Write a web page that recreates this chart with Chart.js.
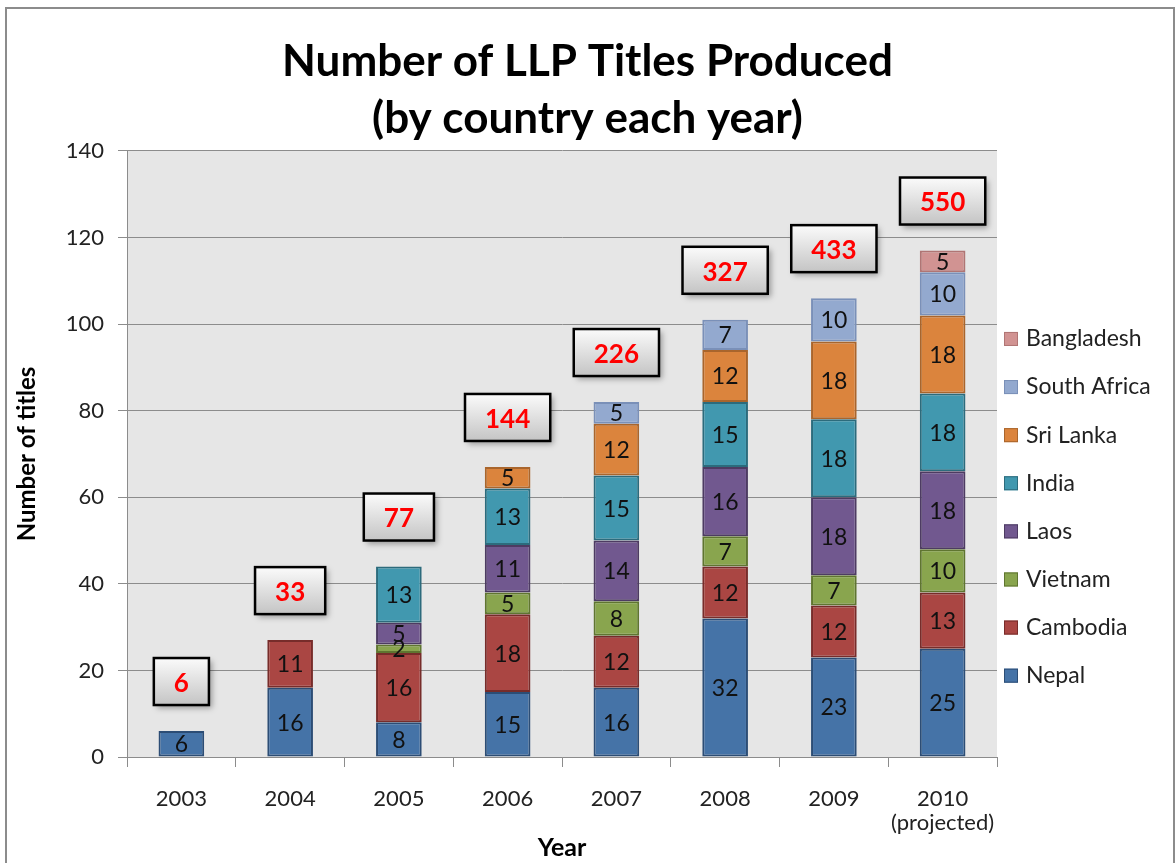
<!DOCTYPE html>
<html lang="en">
<head>
<meta charset="UTF-8">
<title>Number of LLP Titles Produced</title>
<style>
  body { margin: 0; background: #fff; overflow: hidden; }
  #frame { position: absolute; left: 5px; top: 7px; width: 1166px; height: 900px; border: 2px solid #8c8c8c; }
  #chart { position: absolute; left: 0; top: 0; }
</style>
</head>
<body>
<div id="frame"></div>
<canvas id="chart" width="1175" height="863"></canvas>

<script src="https://cdn.jsdelivr.net/npm/chart.js"></script>
<script>
    // values
    const years = ['2003', '2004', '2005', '2006', '2007', '2008', '2009', ['2010', '(projected)']];
    const nepal       = [6, 16, 8, 15, 16, 32, 23, 25];
    const cambodia    = [0, 11, 16, 18, 12, 12, 12, 13];
    const vietnam     = [0, 0, 2, 5, 8, 7, 7, 10];
    const laos        = [0, 0, 5, 11, 14, 16, 18, 18];
    const india       = [0, 0, 13, 13, 15, 15, 18, 18];
    const sriLanka    = [0, 0, 0, 5, 12, 12, 18, 18];
    const southAfrica = [0, 0, 0, 0, 5, 7, 10, 10];
    const bangladesh  = [0, 0, 0, 0, 0, 0, 0, 5];
    // cumulative totals shown in the boxes
    const cumulative  = [6, 33, 77, 144, 226, 327, 433, 550];

    const FONT = 'Lato, "Open Sans", sans-serif';

    function series(label, data, fill, border) {
        return {
            label: label,
            data: data,
            backgroundColor: fill,
            borderColor: border,
            borderWidth: 2,
            borderSkipped: false,
            barPercentage: 0.42,
            categoryPercentage: 1
        }
    }

    // gray plot background
    const plotBg = {
        id: 'plotBg',
        beforeDraw(chart) {
            const {ctx, chartArea: a} = chart;
            ctx.save();
            ctx.fillStyle = '#e6e6e6';
            ctx.fillRect(a.left, a.top, a.right - a.left, a.bottom - a.top);
            ctx.restore();
        }
    }

    // value inside every segment
    const segLabels = {
        id: 'segLabels',
        afterDatasetsDraw(chart) {
            const ctx = chart.ctx;
            ctx.save();
            ctx.font = '23px ' + FONT;
            ctx.fillStyle = '#111';
            ctx.textAlign = 'center';
            ctx.textBaseline = 'middle';
            chart.data.datasets.forEach((ds, di) => {
                chart.getDatasetMeta(di).data.forEach((bar, i) => {
                    const v = ds.data[i];
                    if (!v) return;
                    const p = bar.getProps(['x', 'y', 'base'], true);
                    ctx.fillText(v, p.x, (p.y + p.base) / 2 + 1);
                });
            });
            ctx.restore();
        }
    }

    // boxes with running totals above each stack
    const totalBoxes = {
        id: 'totalBoxes',
        afterDatasetsDraw(chart) {
            const ctx = chart.ctx;
            const yScale = chart.scales.y;
            const meta = chart.getDatasetMeta(0);
            ctx.save();
            ctx.font = 'bold 26px ' + FONT;
            cumulative.forEach((c, i) => {
                let top = 0;
                chart.data.datasets.forEach(ds => top += ds.data[i]);
                const x = meta.data[i].x;
                const txt = String(c);
                const w = Math.max(52, ctx.measureText(txt).width + 40);
                const h = 47;
                const bottom = yScale.getPixelForValue(top) - 26;
                const left = x - w / 2, y0 = bottom - h;

                ctx.save();
                ctx.shadowColor = 'rgba(0,0,0,0.35)';
                ctx.shadowBlur = 6;
                ctx.shadowOffsetX = 3;
                ctx.shadowOffsetY = 3;
                const g = ctx.createLinearGradient(0, y0, 0, bottom);
                g.addColorStop(0, '#fbfbfb');
                g.addColorStop(1, '#c4c4c4');
                ctx.fillStyle = g;
                ctx.fillRect(left, y0, w, h);
                ctx.restore();

                ctx.lineWidth = 2.5;
                ctx.strokeStyle = '#000';
                ctx.strokeRect(left, y0, w, h);

                ctx.fillStyle = '#ff0000';
                ctx.textAlign = 'center';
                ctx.textBaseline = 'middle';
                ctx.fillText(txt, x, y0 + h / 2 + 2);
            });
            ctx.restore();
        }
    }

    // legend on the right, Bangladesh on top
    const sideLegend = {
        id: 'sideLegend',
        afterDraw(chart) {
            const ctx = chart.ctx;
            const a = chart.chartArea;
            const dsets = chart.data.datasets.slice().reverse();
            ctx.save();
            ctx.font = '23px ' + FONT;
            ctx.textBaseline = 'middle';
            ctx.textAlign = 'left';
            dsets.forEach((ds, k) => {
                const y = a.top + 188 + k * 48.1;
                const x = a.right + 7;
                ctx.fillStyle = ds.backgroundColor;
                ctx.fillRect(x, y - 7, 14, 14);
                ctx.lineWidth = 1;
                ctx.strokeStyle = ds.borderColor;
                ctx.strokeRect(x + 0.5, y - 6.5, 13, 13);
                ctx.fillStyle = '#222';
                ctx.fillText(ds.label, x + 22, y);
            });
            ctx.restore();
        }
    }

    new Chart(document.getElementById('chart'), {
        type: 'bar',
        data: {
            labels: years,
            datasets: [
                series('Nepal', nepal, '#4573a7', '#2c4d75'),
                series('Cambodia', cambodia, '#aa4643', '#772c2a'),
                series('Vietnam', vietnam, '#89a54e', '#5f7530'),
                series('Laos', laos, '#71588f', '#4d3b62'),
                series('India', india, '#4198af', '#2c6b7c'),
                series('Sri Lanka', sriLanka, '#db843d', '#a9652c'),
                series('South Africa', southAfrica, '#93a9cf', '#7a90b8'),
                series('Bangladesh', bangladesh, '#d19392', '#b07574')
            ]
        },
        options: {
            responsive: false,
            animation: false,
            layout: { padding: 0 },
            plugins: {
                legend: { display: false },
                tooltip: { enabled: false },
                title: {
                    display: true,
                    text: ['Number of LLP Titles Produced', '(by country each year)'],
                    color: '#000',
                    font: { family: FONT, size: 44, weight: 'bold', lineHeight: 1.295 },
                    padding: { top: 33, bottom: 4 }
                }
            },
            scales: {
                x: {
                    stacked: true,
                    grid: { offset: true, drawOnChartArea: false, color: '#8c8c8c', tickLength: 10 },
                    border: { color: '#8c8c8c' },
                    ticks: { color: '#222', font: { family: FONT, size: 22, lineHeight: 1.1 }, padding: 20, maxRotation: 0 },
                    title: { display: true, text: 'Year', color: '#000', font: { family: FONT, size: 25, weight: 'bold' }, padding: { top: 0, bottom: 0 } },
                    afterFit(s) { s.height = 106; }
                },
                y: {
                    stacked: true,
                    min: 0,
                    max: 140,
                    ticks: { stepSize: 20, color: '#222', font: { family: FONT, size: 22 }, padding: 14 },
                    grid: { color: '#8c8c8c', tickLength: 9 },
                    border: { color: '#8c8c8c' },
                    title: { display: true, text: 'Number of titles', color: '#000', font: { family: FONT, size: 24, weight: 'bold' }, padding: { top: 13, bottom: 0 } },
                    afterFit(s) { s.width = 127; }
                },
                // empty box on the right that leaves room for the legend
                side: {
                    type: 'linear',
                    position: 'right',
                    grid: { display: false },
                    border: { display: false },
                    ticks: { display: false },
                    afterFit(s) { s.width = 178; }
                }
            }
        },
        plugins: [plotBg, segLabels, totalBoxes, sideLegend]
    });
</script>
</body>
</html>
